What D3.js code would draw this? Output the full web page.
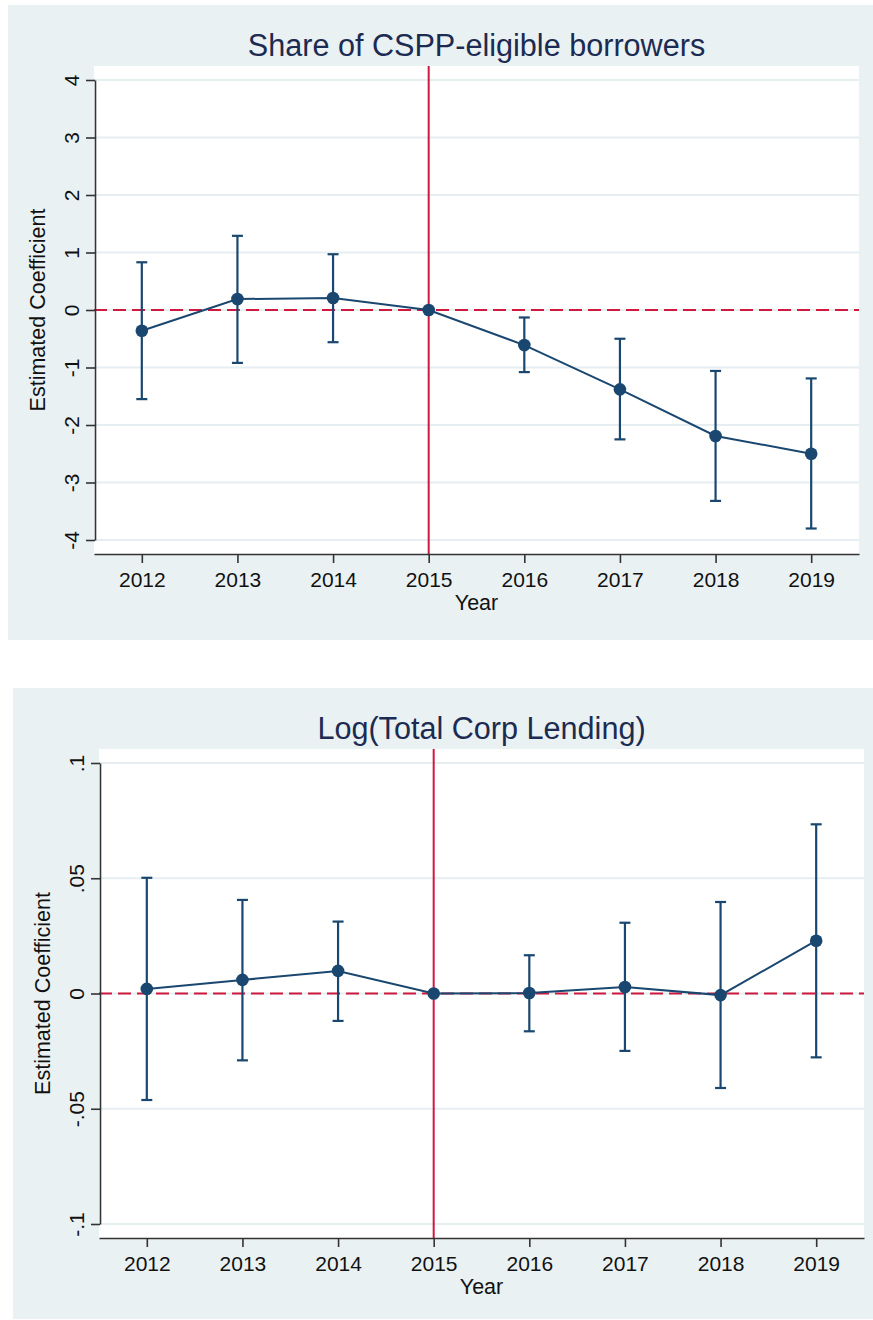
<!DOCTYPE html>
<html>
<head>
<meta charset="utf-8">
<script src="https://cdn.jsdelivr.net/npm/d3@7"></script>
<style>
  html, body { margin: 0; padding: 0; background: #ffffff; }
  svg { display: block; }
  text { font-family: "Liberation Sans", Arial, sans-serif; }
</style>
</head>
<body>
<svg id="chart" width="873" height="1320"></svg>
<script>
// Event-study years
const years = [2012, 2013, 2014, 2015, 2016, 2017, 2018, 2019];
const eventYear = 2015;

// Panel 1: share of CSPP-eligible borrowers
const shareCoef = [-0.36, 0.19, 0.21, 0, -0.61, -1.38, -2.19, -2.50];
const shareLo   = [-1.55, -0.92, -0.56, 0, -1.08, -2.25, -3.32, -3.80];
const shareHi   = [0.83, 1.29, 0.97, 0, -0.13, -0.50, -1.06, -1.19];
const shareTicks = [4, 3, 2, 1, 0, -1, -2, -3, -4];
const shareTickLabels = ["4", "3", "2", "1", "0", "-1", "-2", "-3", "-4"];

// Panel 2: log total corporate lending
const lendCoef = [0.0020, 0.0059, 0.0098, 0, 0.0002, 0.0028, -0.0007, 0.0229];
const lendLo   = [-0.0462, -0.0290, -0.0119, 0, -0.0164, -0.0249, -0.0410, -0.0277];
const lendHi   = [0.0502, 0.0406, 0.0312, 0, 0.0166, 0.0307, 0.0397, 0.0734];
const lendTicks = [0.1, 0.05, 0, -0.05, -0.1];
const lendTickLabels = [".1", ".05", "0", "-.05", "-.1"];

const NAVY = "#1a476f";
const RED = "#d0193f";
const BG = "#eaf1f3";
const GRID = "#e6eef1";

const svg = d3.select("#chart");

function drawPanel(cfg) {
  const g = svg.append("g");

  // outer graph region
  g.append("rect")
    .attr("x", cfg.bg.x).attr("y", cfg.bg.y)
    .attr("width", cfg.bg.w).attr("height", cfg.bg.h)
    .attr("fill", BG);

  const p = cfg.plot;
  // plot region
  g.append("rect")
    .attr("x", p.x).attr("y", p.y)
    .attr("width", p.w).attr("height", p.h)
    .attr("fill", "#ffffff");

  const x = d3.scaleLinear()
    .domain([years[0] - 0.5, years[years.length - 1] + 0.5])
    .range([p.x, p.x + p.w]);
  const yMax = d3.max(cfg.ticks), yMin = d3.min(cfg.ticks);
  const inset = 14;
  const y = d3.scaleLinear()
    .domain([yMin, yMax])
    .range([p.y + p.h - inset, p.y + inset]);

  // horizontal gridlines
  g.append("g").selectAll("line")
    .data(cfg.ticks)
    .join("line")
    .attr("x1", p.x).attr("x2", p.x + p.w)
    .attr("y1", d => y(d)).attr("y2", d => y(d))
    .attr("stroke", GRID).attr("stroke-width", 2);

  // reference lines: zero (dashed) and event year (solid)
  g.append("line")
    .attr("x1", p.x).attr("x2", p.x + p.w)
    .attr("y1", y(0)).attr("y2", y(0))
    .attr("stroke", RED).attr("stroke-width", 2)
    .attr("stroke-dasharray", "13,6");
  g.append("line")
    .attr("x1", x(eventYear)).attr("x2", x(eventYear))
    .attr("y1", p.y).attr("y2", p.y + p.h)
    .attr("stroke", RED).attr("stroke-width", 2);

  // y axis
  const yAxis = d3.axisLeft(y)
    .tickValues(cfg.ticks)
    .tickFormat((d, i) => cfg.tickLabels[i])
    .tickSize(9).tickSizeOuter(0);
  const ya = g.append("g")
    .attr("transform", `translate(${p.x + 1},0)`)
    .call(yAxis);
  ya.select(".domain").attr("stroke", "#333333").attr("stroke-width", 1.6);
  ya.selectAll(".tick line").attr("stroke", "#333333").attr("stroke-width", 1.6);
  ya.selectAll(".tick text")
    .attr("font-size", 21).attr("fill", "#111111")
    .attr("x", 0).attr("y", 0)
    .attr("text-anchor", "middle")
    .attr("transform", "translate(-24,0) rotate(-90)")
    .attr("dy", "0.36em");

  // x axis
  const xAxis = d3.axisBottom(x)
    .tickValues(years)
    .tickFormat(d3.format("d"))
    .tickSize(9).tickSizeOuter(0);
  const xa = g.append("g")
    .attr("transform", `translate(0,${p.y + p.h})`)
    .call(xAxis);
  xa.select(".domain").attr("stroke", "#333333").attr("stroke-width", 1.6);
  xa.selectAll(".tick line").attr("stroke", "#333333").attr("stroke-width", 1.6);
  xa.selectAll(".tick text")
    .attr("font-size", 21).attr("fill", "#111111")
    .attr("y", 33).attr("dy", null);

  // axis titles
  g.append("text")
    .attr("transform", `translate(${p.x - 49},${p.y + p.h / 2}) rotate(-90)`)
    .attr("text-anchor", "middle")
    .attr("font-size", 21.5).attr("fill", "#111111")
    .text("Estimated Coefficient");
  g.append("text")
    .attr("x", p.x + p.w / 2).attr("y", p.y + p.h + 56)
    .attr("text-anchor", "middle")
    .attr("font-size", 21.5).attr("fill", "#111111")
    .text("Year");

  // title
  g.append("text")
    .attr("x", p.x + p.w / 2).attr("y", p.y - 10)
    .attr("text-anchor", "middle")
    .attr("font-size", 30.6).attr("fill", "#1c2b51")
    .text(cfg.title);

  const rows = years.map((yr, i) => ({ yr, b: cfg.coef[i], lo: cfg.lo[i], hi: cfg.hi[i] }));

  // connecting line
  g.append("path")
    .datum(rows)
    .attr("fill", "none")
    .attr("stroke", NAVY).attr("stroke-width", 2)
    .attr("d", d3.line().x(d => x(d.yr)).y(d => y(d.b)));

  // confidence intervals
  const ci = g.append("g").selectAll("g")
    .data(rows.filter(d => d.hi !== d.lo))
    .join("g")
    .attr("stroke", NAVY).attr("stroke-width", 2.2);
  ci.append("line")
    .attr("x1", d => x(d.yr)).attr("x2", d => x(d.yr))
    .attr("y1", d => y(d.lo)).attr("y2", d => y(d.hi));
  ci.append("line")
    .attr("x1", d => x(d.yr) - 5.5).attr("x2", d => x(d.yr) + 5.5)
    .attr("y1", d => y(d.hi)).attr("y2", d => y(d.hi));
  ci.append("line")
    .attr("x1", d => x(d.yr) - 5.5).attr("x2", d => x(d.yr) + 5.5)
    .attr("y1", d => y(d.lo)).attr("y2", d => y(d.lo));

  // point estimates
  g.append("g").selectAll("circle")
    .data(rows)
    .join("circle")
    .attr("cx", d => x(d.yr)).attr("cy", d => y(d.b))
    .attr("r", 6.3)
    .attr("fill", NAVY);
}

drawPanel({
  title: "Share of CSPP-eligible borrowers",
  bg: { x: 8, y: 5, w: 865, h: 635 },
  plot: { x: 94, y: 66, w: 765, h: 488 },
  ticks: shareTicks, tickLabels: shareTickLabels,
  coef: shareCoef, lo: shareLo, hi: shareHi
});

drawPanel({
  title: "Log(Total Corp Lending)",
  bg: { x: 13, y: 688, w: 860, h: 631 },
  plot: { x: 99, y: 749, w: 765, h: 489 },
  ticks: lendTicks, tickLabels: lendTickLabels,
  coef: lendCoef, lo: lendLo, hi: lendHi
});
</script>
</body>
</html>
